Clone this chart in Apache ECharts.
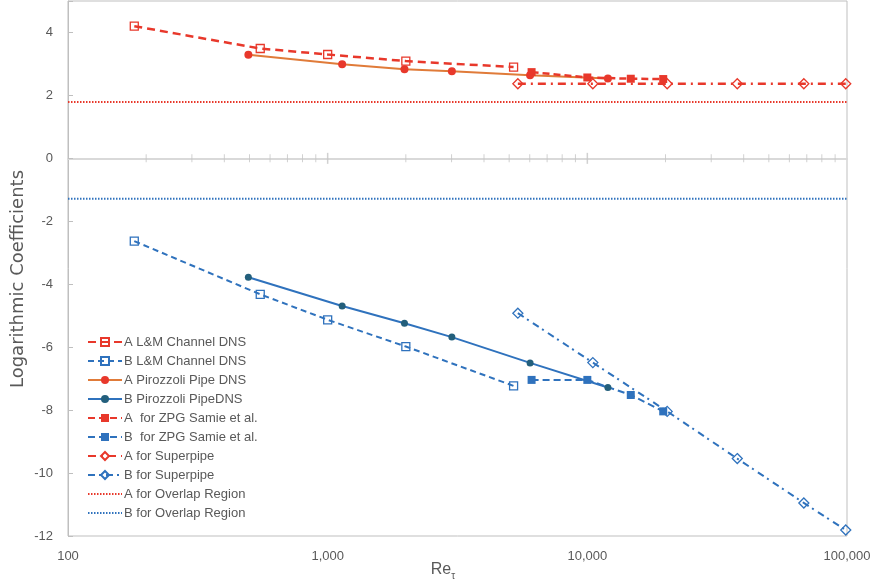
<!DOCTYPE html>
<html>
<head>
<meta charset="utf-8">
<script src="https://cdn.jsdelivr.net/npm/echarts@6/dist/echarts.min.js"></script>
<style>
  html, body { margin: 0; padding: 0; background: #fff; }
  #chart { width: 876px; height: 586px; }
</style>
</head>
<body>
<div id="chart"></div>
<script>
// Reynolds numbers (Re_tau) and log-law coefficients per data set
const reLM = [180, 550, 1000, 2000, 5200];
const aLM = [4.20, 3.49, 3.30, 3.09, 2.90];
const bLM = [-2.63, -4.32, -5.13, -5.98, -7.23];

const rePiro = [495, 1137, 1976, 3008, 6019, 12000];
const aPiro = [3.29, 2.99, 2.83, 2.77, 2.64, 2.54];
const bPiro = [-3.78, -4.69, -5.24, -5.68, -6.50, -7.28];

const reZPG = [6100, 10000, 14700, 19600];
const aZPG = [2.74, 2.57, 2.53, 2.52];
const bZPG = [-7.04, -7.04, -7.52, -8.04];

const reSP = [5400, 10500, 20300, 37800, 68200, 98900];
const aSP = [2.37, 2.37, 2.37, 2.37, 2.37, 2.37];
const bSP = [-4.92, -6.49, -8.04, -9.54, -10.95, -11.81];

const reOverlap = [100, 100000];
const aOverlap = [1.79, 1.79];
const bOverlap = [-1.28, -1.28];

// tick positions drawn along the zero line
const minorTicks = [200, 300, 400, 500, 600, 700, 800, 900,
  2000, 3000, 4000, 5000, 6000, 7000, 8000, 9000,
  20000, 30000, 40000, 50000, 60000, 70000, 80000, 90000];
const majorTicks = [1000, 10000];

const yTicks = [-12, -10, -8, -6, -4, -2, 0, 2, 4];

const RED = '#e8382b';
const BLUE = '#2f72bd';
const ORANGE = '#e07b39';
const TEAL = '#235f7c';
const GREY = '#595959';
const CLEAR = 'rgba(255,255,255,0)';
const FONT = '"Liberation Sans", Arial, sans-serif';

const zip = (xs, ys) => xs.map((x, i) => [x, ys[i]]);

// open markers keep a transparent fill so the line shows through them
function lineSeries(name, xs, ys, color, lineType, width, symbol, size, fill, border) {
  return {
    name: name,
    type: 'line',
    data: zip(xs, ys),
    symbol: symbol,
    symbolSize: size,
    showSymbol: symbol !== 'none',
    lineStyle: { color: color, width: width, type: lineType },
    itemStyle: { color: fill, borderColor: border || fill, borderWidth: border ? 1.3 : 0 },
    emphasis: { disabled: true },
    z: 3
  };
}

const series = [
  lineSeries('A L&M Channel DNS', reLM, aLM, RED, [8, 5], 2.5, 'rect', 8, CLEAR, RED),
  lineSeries('B L&M Channel DNS', reLM, bLM, BLUE, [6, 4], 2, 'rect', 8, CLEAR, BLUE),
  lineSeries('A Pirozzoli Pipe DNS', rePiro, aPiro, ORANGE, 'solid', 2, 'circle', 8, RED),
  lineSeries('B Pirozzoli PipeDNS', rePiro, bPiro, BLUE, 'solid', 2, 'circle', 7, TEAL),
  lineSeries('A  for ZPG Samie et al.', reZPG, aZPG, RED, [7, 4], 2.5, 'rect', 8, RED),
  lineSeries('B  for ZPG Samie et al.', reZPG, bZPG, BLUE, [7, 4], 2, 'rect', 8, BLUE),
  lineSeries('A for Superpipe', reSP, aSP, RED, [8, 5, 2, 5], 2.5, 'diamond', 10, CLEAR, RED),
  lineSeries('B for Superpipe', reSP, bSP, BLUE, [7, 4, 2, 5], 2, 'diamond', 10, CLEAR, BLUE),
  lineSeries('A for Overlap Region', reOverlap, aOverlap, RED, [1.5, 1.5], 2, 'none', 0, RED),
  lineSeries('B for Overlap Region', reOverlap, bOverlap, BLUE, [1.5, 1.5], 2, 'none', 0, BLUE),
  {
    name: 'minorTicks', type: 'scatter', silent: true, xAxisIndex: 1,
    data: minorTicks.map(v => [v, 0]), symbol: 'rect', symbolSize: [1, 8],
    itemStyle: { color: '#c6c6c6' }, z: 2
  },
  {
    name: 'majorTicks', type: 'scatter', silent: true, xAxisIndex: 1,
    data: majorTicks.map(v => [v, 0]), symbol: 'rect', symbolSize: [1.5, 11],
    itemStyle: { color: '#c6c6c6' }, z: 2
  }
];

const legendItems = series.slice(0, 10).map(s => (
  s.symbol === 'none'
    ? { name: s.name, itemStyle: { color: CLEAR, borderWidth: 0, opacity: 0 } }
    : { name: s.name }
));

const chart = echarts.init(document.getElementById('chart'), null, { renderer: 'canvas' });

chart.setOption({
  animation: false,
  backgroundColor: '#ffffff',
  textStyle: { fontFamily: FONT },
  grid: {
    left: 68, right: 29, top: 1, bottom: 50,
    show: true, borderColor: '#bfbfbf', borderWidth: 1
  },
  legend: {
    orient: 'vertical',
    left: 82, top: 330,
    itemWidth: 34, itemHeight: 10, itemGap: 5,
    data: legendItems,
    textStyle: { color: GREY, fontSize: 13, fontFamily: FONT, lineHeight: 14, padding: [0, 0, 0, -3] }
  },
  xAxis: [
    {
      type: 'log', logBase: 10, min: 100, max: 100000,
      position: 'bottom',
      axisLine: { show: false },
      axisTick: { show: false },
      splitLine: { show: false },
      axisLabel: {
        color: GREY, fontSize: 13, fontFamily: FONT, margin: 14,
        formatter: v => Number(v).toLocaleString('en-US')
      }
    },
    {
      type: 'log', logBase: 10, min: 100, max: 100000,
      position: 'top',
      axisLine: { show: true, onZero: true, onZeroAxisIndex: 0, lineStyle: { color: '#d9d9d9', width: 2 } },
      axisTick: { show: false },
      axisLabel: { show: false },
      splitLine: { show: false }
    }
  ],
  yAxis: {
    type: 'value', min: -12, max: 5, interval: 2,
    axisLine: { show: true, lineStyle: { color: '#bfbfbf', width: 1 } },
    axisTick: { show: true, inside: true, length: 5, lineStyle: { color: '#bfbfbf' } },
    splitLine: { show: false },
    axisLabel: {
      color: GREY, fontSize: 13, fontFamily: FONT, margin: 15,
      formatter: v => (yTicks.indexOf(v) >= 0 ? String(v) : '')
    }
  },
  graphic: [
    {
      type: 'text', x: 18, y: 279, rotation: Math.PI / 2,
      style: {
        text: 'Logarithmic Coefficients', fill: GREY, fontSize: 18,
        fontFamily: '"DejaVu Sans", sans-serif',
        align: 'center', verticalAlign: 'middle'
      }
    },
    {
      type: 'text', x: 443, y: 570,
      style: {
        text: '{a|Re}{b|τ}', align: 'center', verticalAlign: 'middle',
        rich: {
          a: { fill: GREY, fontSize: 16, fontFamily: FONT, verticalAlign: 'bottom' },
          b: { fill: GREY, fontSize: 10, fontFamily: FONT, verticalAlign: 'bottom', padding: [0, 0, -3, 0] }
        }
      }
    }
  ],
  series: series
});
</script>
</body>
</html>
